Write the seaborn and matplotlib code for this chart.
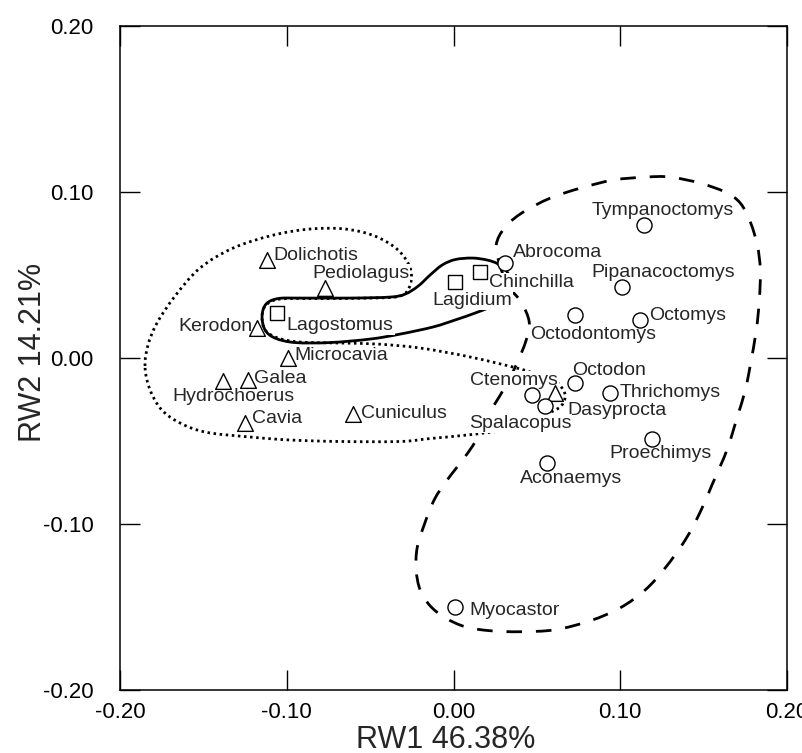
import numpy as np
import pandas as pd
import matplotlib
matplotlib.use("Agg")
import matplotlib.pyplot as plt
from matplotlib.path import Path
from matplotlib.patches import PathPatch
from matplotlib.ticker import FormatStrFormatter, MultipleLocator
import seaborn as sns

# ---- specimen scores on the first two relative-warp axes ----
cavioid_names = ["Dolichotis", "Pediolagus", "Kerodon", "Microcavia", "Galea",
                 "Hydrochoerus", "Cavia", "Cuniculus", "Dasyprocta"]
cavioid_rw1 = [-0.112, -0.077, -0.118, -0.099, -0.123, -0.138, -0.125, -0.060, 0.061]
cavioid_rw2 = [0.059, 0.042, 0.018, 0.000, -0.013, -0.014, -0.039, -0.034, -0.021]

chinchilloid_names = ["Lagostomus", "Lagidium", "Chinchilla"]
chinchilloid_rw1 = [-0.106, 0.001, 0.016]
chinchilloid_rw2 = [0.027, 0.046, 0.052]

octodontoid_names = ["Abrocoma", "Tympanoctomys", "Pipanacoctomys", "Octodontomys",
                     "Octomys", "Octodon", "Thrichomys", "Ctenomys", "Spalacopus",
                     "Proechimys", "Aconaemys", "Myocastor"]
octodontoid_rw1 = [0.031, 0.114, 0.101, 0.073, 0.112, 0.073, 0.094, 0.047, 0.055,
                   0.119, 0.056, 0.001]
octodontoid_rw2 = [0.057, 0.080, 0.043, 0.026, 0.023, -0.015, -0.021, -0.022, -0.029,
                   -0.049, -0.063, -0.150]

# ---- hand-drawn group outlines (vertices in RW1/RW2 units) ----
cavioid_outline_x = [-0.185, -0.1832, -0.1778, -0.167, -0.152, -0.1322, -0.1082, -0.086,
                     -0.065, -0.047, -0.0332, -0.026, -0.026, -0.032, -0.050, -0.080,
                     -0.104, -0.1124, -0.1148, -0.113, -0.1052, -0.092, -0.068, -0.0458,
                     -0.020, 0.010, 0.040, 0.052, 0.0616, 0.0658, 0.067, 0.0646, 0.0598,
                     0.046, 0.031, 0.0082, -0.014, -0.032, -0.068, -0.098, -0.122,
                     -0.149, -0.1652, -0.176, -0.1826]
cavioid_outline_y = [-0.0048, 0.0078, 0.0211, 0.0373, 0.0542, 0.0662, 0.0740, 0.0777,
                     0.0777, 0.0734, 0.0650, 0.0542, 0.0439, 0.0373, 0.0361, 0.0358,
                     0.0355, 0.0319, 0.0253, 0.0169, 0.0120, 0.0096, 0.0090, 0.0084,
                     0.0060, 0.0006, -0.0066, -0.0108, -0.0144, -0.0193, -0.0235, -0.0289,
                     -0.0319, -0.0385, -0.0433, -0.0464, -0.0485, -0.0503, -0.0503,
                     -0.0494, -0.0476, -0.0446, -0.0385, -0.0301, -0.0175]

chinchilloid_outline_x = [-0.1148, -0.1124, -0.1052, -0.092, -0.062, -0.038, -0.029,
                          -0.0212, -0.014, -0.0068, 0.001, 0.0112, 0.0202, 0.0268, 0.0322,
                          0.0334, 0.0298, 0.0232, 0.013, 0.001, -0.0122, -0.032, -0.050,
                          -0.074, -0.095, -0.107, -0.113]
chinchilloid_outline_y = [0.0253, 0.0325, 0.0358, 0.0361, 0.0361, 0.0367, 0.0385, 0.0433,
                          0.0500, 0.0560, 0.0593, 0.0602, 0.0590, 0.0566, 0.0518, 0.0445,
                          0.0367, 0.0313, 0.0271, 0.0229, 0.0187, 0.0144, 0.0114, 0.0093,
                          0.0093, 0.0120, 0.0169]

octodontoid_outline_x = [0.0256, 0.031, 0.0418, 0.058, 0.076, 0.0958, 0.1156, 0.130, 0.148,
                         0.163, 0.172, 0.178, 0.1822, 0.184, 0.1834, 0.1816, 0.178, 0.175,
                         0.170, 0.164, 0.155, 0.148, 0.139, 0.127, 0.115, 0.100, 0.082,
                         0.061, 0.040, 0.022, 0.007, -0.005, -0.014, -0.020, -0.0224,
                         -0.0218, -0.0176, -0.0116, -0.0038, 0.0064, 0.0136, 0.022, 0.0298,
                         0.0376, 0.0436, 0.0454, 0.0406, 0.0328, 0.028]
octodontoid_outline_y = [0.0680, 0.0789, 0.0879, 0.0963, 0.1023, 0.1072, 0.1090, 0.1090,
                         0.1053, 0.0999, 0.0933, 0.0819, 0.0680, 0.0530, 0.0349, 0.0169,
                         -0.0042, -0.0193, -0.0361, -0.0554, -0.0765, -0.0927, -0.1096,
                         -0.1264, -0.1397, -0.1505, -0.1583, -0.1637, -0.1649, -0.1643,
                         -0.1619, -0.1565, -0.1493, -0.1397, -0.1276, -0.1144, -0.1006,
                         -0.0855, -0.0735, -0.0602, -0.0494, -0.0325, -0.0193, -0.0042,
                         0.0108, 0.0217, 0.0337, 0.0433, 0.0554]

# label placement: (dx, dy) in pixels (screen, y downward) and horizontal alignment
label_place = {
    "Dolichotis": (7, -6, "left"), "Pediolagus": (-13, -16, "left"),
    "Kerodon": (-4, -3, "right"), "Microcavia": (6, -4, "left"),
    "Galea": (6, -3, "left"), "Hydrochoerus": (10, 14, "center"),
    "Cavia": (7, -6, "left"), "Cuniculus": (8, -2, "left"),
    "Dasyprocta": (12, 16, "left"), "Lagostomus": (10, 11, "left"),
    "Lagidium": (17, 17, "center"), "Chinchilla": (9, 9, "left"),
    "Abrocoma": (8, -12, "left"), "Tympanoctomys": (19, -16, "center"),
    "Pipanacoctomys": (-31, -16, "left"), "Octodontomys": (18, 18, "center"),
    "Octomys": (9, -6, "left"), "Octodon": (-3, -14, "left"),
    "Thrichomys": (9, -2, "left"), "Ctenomys": (26, -16, "right"),
    "Spalacopus": (-25, 16, "center"), "Proechimys": (9, 13, "center"),
    "Aconaemys": (24, 14, "center"), "Myocastor": (14, 2, "left"),
}

sns.set_style("ticks")
plt.rcParams["font.family"] = ["Liberation Sans", "DejaVu Sans"]
plt.rcParams["axes.unicode_minus"] = False

df = pd.concat([
    pd.DataFrame({"taxon": cavioid_names, "RW1": cavioid_rw1, "RW2": cavioid_rw2,
                  "clade": "Cavioidea"}),
    pd.DataFrame({"taxon": chinchilloid_names, "RW1": chinchilloid_rw1,
                  "RW2": chinchilloid_rw2, "clade": "Chinchilloidea"}),
    pd.DataFrame({"taxon": octodontoid_names, "RW1": octodontoid_rw1,
                  "RW2": octodontoid_rw2, "clade": "Octodontoidea"}),
], ignore_index=True)

fig = plt.figure(figsize=(8.03, 7.53), dpi=100)
ax = fig.add_axes([0.14944, 0.08367, 0.83064, 0.88181])


def closed_curve(xs, ys):
    """Smooth closed Catmull-Rom curve through the outline vertices."""
    pts = np.column_stack([xs, ys])
    n = len(pts)
    verts = [pts[0]]
    codes = [Path.MOVETO]
    for i in range(n):
        p0, p1, p2, p3 = pts[i - 1], pts[i], pts[(i + 1) % n], pts[(i + 2) % n]
        verts += [p1 + (p2 - p0) / 6.0, p2 - (p3 - p1) / 6.0, p2]
        codes += [Path.CURVE4] * 3
    return Path(verts, codes)


outline_styles = [
    (cavioid_outline_x, cavioid_outline_y, dict(lw=2.0, linestyle=(0, (0.9, 1.3)))),
    (octodontoid_outline_x, octodontoid_outline_y, dict(lw=2.0, linestyle=(0, (5.6, 5.0)))),
    (chinchilloid_outline_x, chinchilloid_outline_y, dict(lw=2.0, linestyle="-")),
]
for xs, ys, st in outline_styles:
    ax.add_patch(PathPatch(closed_curve(xs, ys), facecolor="none", edgecolor="black",
                           capstyle="butt", zorder=2, **st))

clade_markers = {"Cavioidea": ("^", 128), "Chinchilloidea": ("s", 100),
                 "Octodontoidea": ("o", 118)}
for clade, (mk, size) in clade_markers.items():
    sub = df[df["clade"] == clade]
    sns.scatterplot(data=sub, x="RW1", y="RW2", marker=mk, s=size, color="white",
                    edgecolor="black", linewidth=1.0, zorder=4, legend=False, ax=ax)

for _, row in df.iterrows():
    dx, dy, ha = label_place[row["taxon"]]
    ax.annotate(row["taxon"], (row["RW1"], row["RW2"]), xytext=(dx, -dy - 1.5),
                textcoords="offset pixels", ha=ha, va="center", fontsize=14,
                bbox=dict(boxstyle="square,pad=0.05", fc="white", ec="none"),
                zorder=3)

ax.set_xlim(-0.2, 0.2)
ax.set_ylim(-0.2, 0.2)
ax.xaxis.set_major_locator(MultipleLocator(0.1))
ax.yaxis.set_major_locator(MultipleLocator(0.1))
ax.xaxis.set_major_formatter(FormatStrFormatter("%.2f"))
ax.yaxis.set_major_formatter(FormatStrFormatter("%.2f"))
ax.tick_params(axis="both", direction="in", top=True, right=True, length=14.4,
               width=1.0, labelsize=16, colors="black")
ax.tick_params(axis="x", pad=9)
ax.tick_params(axis="y", pad=19)
for sp in ax.spines.values():
    sp.set_visible(True)
    sp.set_linewidth(1.1)
    sp.set_color("black")

ax.set_xlabel("RW1 46.38%", fontsize=22)
ax.set_ylabel("RW2 14.21%", fontsize=22)
ax.xaxis.set_label_coords(0.488, -0.0525)
ax.yaxis.set_label_coords(-0.108, 0.508)

fig.savefig("out.png", dpi=100)
